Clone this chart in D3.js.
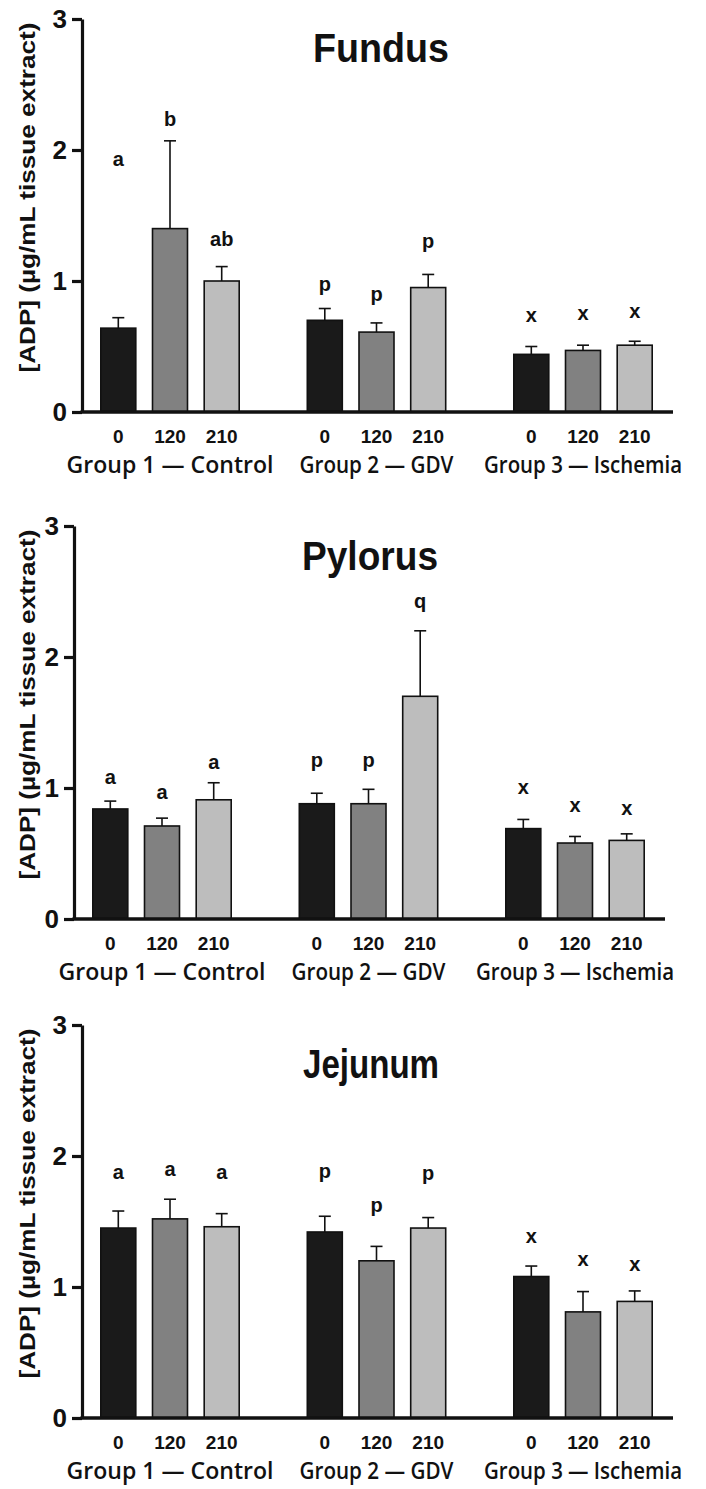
<!DOCTYPE html>
<html>
<head>
<meta charset="utf-8">
<script src="https://cdn.jsdelivr.net/npm/d3@7"></script>
<style>
  body { margin: 0; background: #fff; }
  svg { display: block; }
  text { fill: #111; }
</style>
</head>
<body>
<svg id="chart" width="706" height="1489"></svg>
<script>
// categories
var groups = ["Group 1 \u2014 Control", "Group 2 \u2014 GDV", "Group 3 \u2014 Ischemia"];
var times = ["0", "120", "210"];
var yTicks = [0, 1, 2, 3];
var yLabel = "[ADP] (\u00b5g/mL tissue extract)";

// Fundus (means, SEM, letters, letter height) — per group, per time
var fundusMean = [0.64, 1.40, 1.00, 0.70, 0.61, 0.95, 0.44, 0.47, 0.51];
var fundusSem = [0.08, 0.67, 0.11, 0.09, 0.07, 0.10, 0.06, 0.04, 0.03];
var fundusLetters = ["a", "b", "ab", "p", "p", "p", "x", "x", "x"];
var fundusLetterAt = [1.92, 2.23, 1.31, 0.97, 0.89, 1.30, 0.73, 0.75, 0.76];

// Pylorus
var pylorusMean = [0.84, 0.71, 0.91, 0.88, 0.88, 1.70, 0.69, 0.58, 0.60];
var pylorusSem = [0.06, 0.06, 0.13, 0.08, 0.11, 0.50, 0.07, 0.05, 0.05];
var pylorusLetters = ["a", "a", "a", "p", "p", "q", "x", "x", "x"];
var pylorusLetterAt = [1.08, 0.96, 1.19, 1.21, 1.21, 2.42, 1.00, 0.86, 0.84];

// Jejunum
var jejunumMean = [1.45, 1.52, 1.46, 1.42, 1.20, 1.45, 1.08, 0.81, 0.89];
var jejunumSem = [0.13, 0.15, 0.10, 0.12, 0.11, 0.08, 0.08, 0.155, 0.08];
var jejunumLetters = ["a", "a", "a", "p", "p", "p", "x", "x", "x"];
var jejunumLetterAt = [1.87, 1.89, 1.87, 1.88, 1.62, 1.86, 1.38, 1.21, 1.17];

var panels = [
  {title: "Fundus", mean: fundusMean, sem: fundusSem, letters: fundusLetters, letterAt: fundusLetterAt,
   left: 82, base: 412, titleX: 381, titleY: 62},
  {title: "Pylorus", mean: pylorusMean, sem: pylorusSem, letters: pylorusLetters, letterAt: pylorusLetterAt,
   left: 74, base: 919, titleX: 370, titleY: 570},
  {title: "Jejunum", mean: jejunumMean, sem: jejunumSem, letters: jejunumLetters, letterAt: jejunumLetterAt,
   left: 82, base: 1418, titleX: 371, titleY: 1078}
];

var fills = ["#1a1a1a", "#818181", "#bdbdbd"];
var svg = d3.select("#chart");

var axisWidth = 591, unit = 131, barW = 35;

var gx = d3.scalePoint().domain(groups).range([88, 501]);
var tx = d3.scalePoint().domain(times).range([-51.7, 51.7]);

panels.forEach(function(p) {
  var g = svg.append("g").attr("transform", "translate(" + p.left + "," + p.base + ")");
  var y = d3.scaleLinear().domain([0, 3]).range([0, -3 * unit]);

  var rows = [];
  groups.forEach(function(gr, gi) {
    times.forEach(function(t, ti) {
      var k = gi * 3 + ti;
      rows.push({group: gr, time: t, ti: ti, mean: p.mean[k], sem: p.sem[k],
                 letter: p.letters[k], letterAt: p.letterAt[k]});
    });
  });
  var cx = function(d) { return gx(d.group) + tx(d.time); };

  // bars
  g.selectAll("rect.bar").data(rows).enter().append("rect")
    .attr("class", "bar")
    .attr("x", function(d) { return cx(d) - barW / 2; })
    .attr("y", function(d) { return y(d.mean); })
    .attr("width", barW)
    .attr("height", function(d) { return y(0) - y(d.mean); })
    .attr("fill", function(d) { return fills[d.ti]; })
    .attr("stroke", "#111")
    .attr("stroke-width", 1.6);

  // error bars
  var eb = g.selectAll("g.err").data(rows).enter().append("g").attr("class", "err");
  eb.append("line")
    .attr("x1", cx).attr("x2", cx)
    .attr("y1", function(d) { return y(d.mean); })
    .attr("y2", function(d) { return y(d.mean + d.sem); })
    .attr("stroke", "#111").attr("stroke-width", 1.6);
  eb.append("line")
    .attr("x1", function(d) { return cx(d) - 6; })
    .attr("x2", function(d) { return cx(d) + 6; })
    .attr("y1", function(d) { return y(d.mean + d.sem); })
    .attr("y2", function(d) { return y(d.mean + d.sem); })
    .attr("stroke", "#111").attr("stroke-width", 1.6);

  // significance letters
  g.selectAll("text.letter").data(rows).enter().append("text")
    .attr("class", "letter")
    .attr("x", cx)
    .attr("y", function(d) { return y(d.letterAt); })
    .attr("dy", "0.3em")
    .attr("text-anchor", "middle")
    .style("font-family", "Liberation Sans, Arial, sans-serif")
    .style("font-weight", "bold")
    .style("font-size", "20px")
    .text(function(d) { return d.letter; });

  // y axis
  var yAxis = g.append("g").call(d3.axisLeft(y).tickValues(yTicks).tickFormat(d3.format("d")).tickSize(10).tickSizeOuter(0));
  yAxis.select(".domain").attr("stroke", "#111").attr("stroke-width", 3.2);
  yAxis.selectAll(".tick line").attr("stroke", "#111").attr("stroke-width", 3.2);
  yAxis.selectAll(".tick text")
    .attr("x", -15)
    .style("font-family", "Liberation Sans, Arial, sans-serif")
    .style("font-weight", "bold")
    .style("font-size", "26px")
    .attr("fill", "#111");

  // x baseline
  g.append("line")
    .attr("x1", -1.5).attr("x2", axisWidth)
    .attr("y1", y(0)).attr("y2", y(0))
    .attr("stroke", "#111").attr("stroke-width", 3.6);

  // time tick labels
  g.selectAll("text.time").data(rows).enter().append("text")
    .attr("class", "time")
    .attr("x", cx)
    .attr("y", 31)
    .attr("text-anchor", "middle")
    .style("font-family", "Liberation Sans, Arial, sans-serif")
    .style("font-weight", "bold")
    .style("font-size", "19px")
    .text(function(d) { return d.time; });

  // group labels
  var gw = [207, 154, 198];
  g.selectAll("text.group").data(groups).enter().append("text")
    .attr("class", "group")
    .attr("x", function(d) { return gx(d); })
    .attr("y", 61)
    .attr("text-anchor", "middle")
    .attr("textLength", function(d, i) { return gw[i]; })
    .attr("lengthAdjust", "spacingAndGlyphs")
    .style("font-family", "Open Sans, sans-serif")
    .style("font-weight", "600")
    .style("font-size", "23px")
    .text(function(d) { return d; });

  // y label
  g.append("text")
    .attr("transform", "translate(" + (27 - p.left + 8) + "," + (-3 * unit / 2 - 18) + ")rotate(-90)")
    .attr("text-anchor", "middle")
    .attr("textLength", 350)
    .attr("lengthAdjust", "spacingAndGlyphs")
    .style("font-family", "Liberation Sans, Arial, sans-serif")
    .style("font-weight", "bold")
    .style("font-size", "22px")
    .text(yLabel);

  // title
  svg.append("text")
    .attr("x", p.titleX).attr("y", p.titleY)
    .attr("text-anchor", "middle")
    .attr("textLength", 136)
    .attr("lengthAdjust", "spacingAndGlyphs")
    .style("font-family", "Liberation Sans, Arial, sans-serif")
    .style("font-weight", "bold")
    .style("font-size", "40px")
    .text(p.title);
});
</script>
</body>
</html>
